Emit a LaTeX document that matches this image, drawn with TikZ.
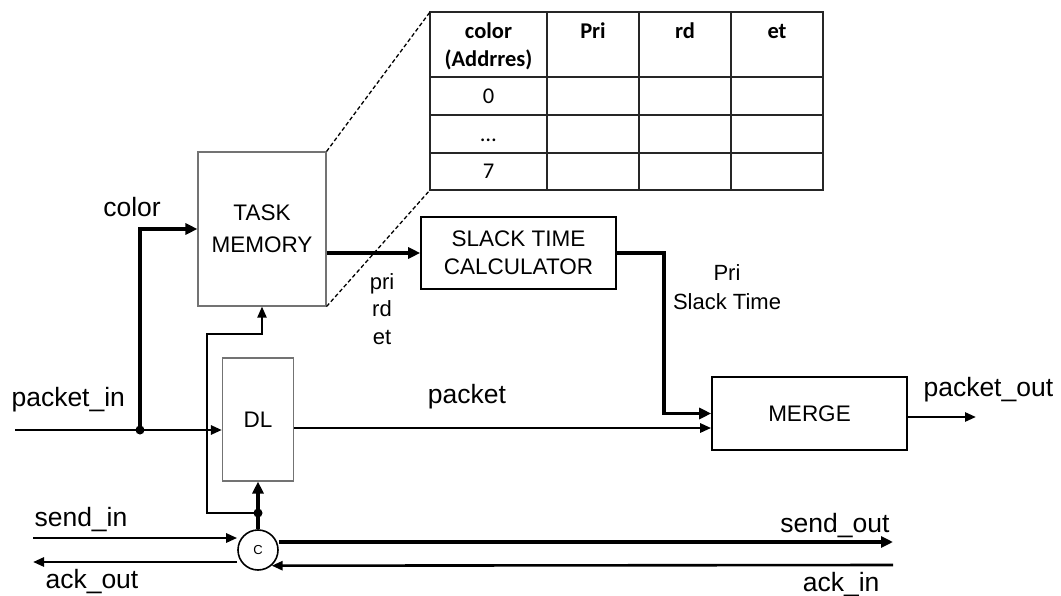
\documentclass[tikz,border=0pt]{standalone}
\usepackage{fontspec}
\setmainfont{Liberation Sans}
\newfontfamily\tablefont{Carlito}
\usetikzlibrary{positioning,arrows.meta,calc}
\newcommand\lblfont{\fontsize{26.5}{30}\selectfont}
\newcommand\blkfont{\fontsize{22.5}{28}\selectfont}

\begin{document}
\begin{tikzpicture}[x=1pt,y=-1pt,every node/.style={font=\lblfont},
    block/.style={draw,line width=1.6pt,minimum width=195pt,minimum height=72pt,align=center,font=\blkfont},
    grayblock/.style={draw=black!55,line width=1.1pt,align=center,font=\blkfont},
    bus/.style={line width=3.4pt,-{Triangle[length=12pt,width=11pt]}},
    wire/.style={line width=2.6pt,-{Triangle[length=11pt,width=9pt]}},
    dot/.style={circle,fill,inner sep=0pt,minimum size=9pt},
    tbl/.style={line width=1.5pt,draw=black!85},
    cell/.style={anchor=base,font=\tablefont\fontsize{22.5}{24}\selectfont}]
    \useasboundingbox (0,0) rectangle (1061,596);
    % Blocks
    \node[grayblock,minimum width=128pt,minimum height=154pt,font={\fontsize{22.5}{32}\selectfont}] (tm) at (262,229) {TASK\\MEMORY};
    \node[grayblock,minimum width=71pt,minimum height=123pt] (dl) at (258,419.5) {DL};
    \node[block] (stc) at (518.5,253) {SLACK TIME\\CALCULATOR};
    \node[block,minimum height=73pt] (merge) at (809.5,413.5) {MERGE};
    \node[draw,circle,line width=1.6pt,minimum size=40pt,inner sep=0pt,font=\fontsize{13}{13}\selectfont] (c) at (258,550) {C};
    % Memory table
    \begin{scope}
      \draw[tbl] (430,12) rectangle (823,190);
      \foreach \x in {547,639,731} \draw[tbl] (\x,12) -- (\x,190);
      \foreach \y in {77,115,153} \draw[tbl] (430,\y) -- (823,\y);
      \coordinate (tbltop) at (430,12); \coordinate (tblbot) at (430,190);
      \node[cell] (hcolor) at (488.5,39) {\bfseries color};
      \node[cell] (haddr) at (488.5,67) {\bfseries (Addrres)};
      \foreach \t/\x in {Pri/593,rd/685,et/777} \node[cell] (h\t) at (\x,39) {\bfseries \t};
      \node[cell] (r0) at (488.5,104) {0};
      \node[cell] (rdots) at (488.5,142) {…};
      \node[cell] (r7) at (488.5,179) {7};
    \end{scope}
    \draw[dashed,dash pattern=on 4pt off 2.5pt,line width=1.3pt] (tm.north east) -- (tbltop);
    \draw[dashed,dash pattern=on 4pt off 2.5pt,line width=1.3pt] (tm.south east) -- (tblbot);
    % Junctions and free ends
    \node[dot] (jc) at (140,430) {};
    \node[dot] (jd) at (258,513) {};
    \coordinate (pin) at (15,430);
    \coordinate (fb) at (207,334);
    \coordinate (sin) at (33,538);
    \coordinate (aout) at (33,562);
    \coordinate (sout) at (893,542);
    \coordinate (ain) at (893,565);
    \coordinate (pout) at (976,417);
    % Connectors
    \draw[wire] (pin) -- (pin -| dl.west);
    \draw[bus] (jc.center) |- (tm.west);
    \draw[bus] (tm.east |- stc.west) -- (stc.west);
    \draw[bus] (stc.east) -- ++(47,0) |- (merge.west);
    \draw[wire] ([yshift=-8.5pt]dl.east) -- ([yshift=-8.5pt]dl.east -| merge.west);
    \draw[wire] (merge.east |- pout) -- (pout);
    \draw[wire,line width=2.1pt] (jd.center) -| (fb) -| (tm.south);
    \draw[bus] (c.north) -- (dl.south);
    \draw[wire] (sin) -- (sin -| c.west);
    \draw[wire] (c.west |- aout) -- (aout);
    \draw[bus] (c.east |- sout) -- (sout);
    \draw[wire] (ain) -- (c.-49);
    % Labels
    \node (lcolor) at (132,207) {color};
    \node[anchor=west] (lpin) at (8,400) {packet\_in};
    \node (lpkt) at (467,397) {packet};
    \node[anchor=west] (lpout) at (920,390) {packet\_out};
    \node[anchor=west] (lsin) at (31,520) {send\_in};
    \node[anchor=west] (laout) at (42,582) {ack\_out};
    \node[anchor=east] (lsout) at (893,526) {send\_out};
    \node[anchor=east] (lain) at (883,585) {ack\_in};
    \node[align=center,font={\fontsize{22}{27.5}\selectfont}] (lpre) at (382,309) {pri\\rd\\et};
    \node[align=center,font={\fontsize{22}{29}\selectfont}] (lslack) at (727,287.5) {Pri\\Slack Time};
\end{tikzpicture}
\end{document}
